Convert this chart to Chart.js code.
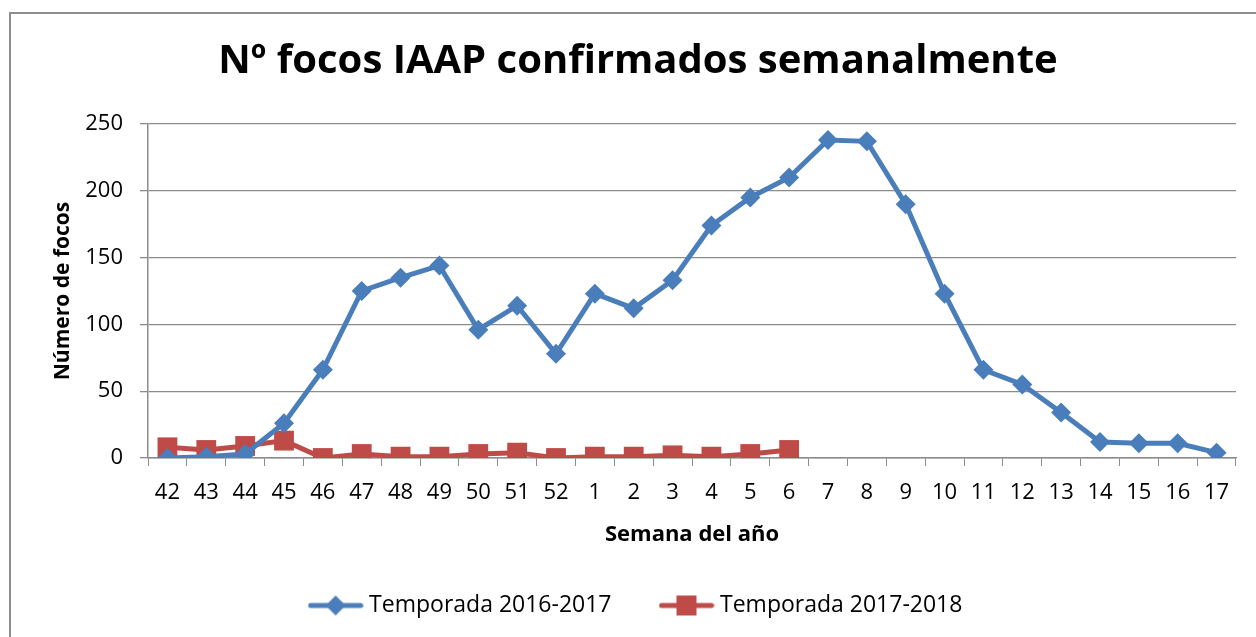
<!DOCTYPE html>
<html>
<head>
<meta charset="utf-8">
<script src="https://cdn.jsdelivr.net/npm/chart.js@4.4.0/dist/chart.umd.min.js"></script>
<style>
  html, body { margin: 0; padding: 0; background: #fff; }
  #wrap { position: relative; width: 1256px; height: 637px; overflow: hidden; }
  #frame {
    position: absolute; left: 9px; top: 12px; width: 1400px; height: 800px;
    border-left: 2px solid #8e8e8e; border-top: 2px solid #8e8e8e;
  }
  canvas { position: absolute; left: 0; top: 0; }
</style>
</head>
<body>
<div id="wrap">
  <div id="frame"></div>
  <canvas id="chart" width="1256" height="637"></canvas>
</div>
<script>
// semanas (42..52 de un año, 1..17 del siguiente)
const weeks = ['42','43','44','45','46','47','48','49','50','51','52',
               '1','2','3','4','5','6','7','8','9','10','11','12','13','14','15','16','17'];

const season1617 = [0, 1, 3, 26, 66, 125, 135, 144, 96, 114, 78,
                    123, 112, 133, 174, 195, 210, 238, 237, 190, 123, 66, 55, 34, 12, 11, 11, 4];

const season1718 = [8, 6, 9, 13, 0, 3, 1, 1, 3, 4, 0,
                    1, 1, 2, 1, 3, 6];

const yTicks = [0, 50, 100, 150, 200, 250];

const BLUE = '#4a7ebb';
const RED  = '#be4b48';
const GRID = '#8c8c8c';
const FONT = "'Open Sans', 'Noto Sans', sans-serif";

// icono de leyenda: linea + marcador, como en Excel
function legendIcon(color, shape) {
  const c = document.createElement('canvas');
  c.width = 56; c.height = 22;
  const g = c.getContext('2d');
  g.strokeStyle = color;
  g.lineWidth = 5;
  g.lineCap = 'round';
  g.beginPath(); g.moveTo(3, 11); g.lineTo(53, 11); g.stroke();
  g.fillStyle = color;
  g.beginPath();
  if (shape === 'diamond') {
    g.moveTo(28, 1); g.lineTo(38, 11); g.lineTo(28, 21); g.lineTo(18, 11);
  } else {
    g.rect(18, 1, 20, 20);
  }
  g.closePath(); g.fill();
  return c;
}

const icons = [legendIcon(BLUE, 'diamond'), legendIcon(RED, 'square')];

new Chart(document.getElementById('chart'), {
  type: 'line',
  data: {
    labels: weeks,
    datasets: [
      {
        label: 'Temporada 2016-2017',
        data: season1617,
        borderColor: BLUE,
        backgroundColor: BLUE,
        borderWidth: 5,
        pointStyle: 'rectRot',
        pointRadius: 10,
        pointBorderWidth: 0,
        tension: 0,
      },
      {
        label: 'Temporada 2017-2018',
        data: season1718,
        borderColor: RED,
        backgroundColor: RED,
        borderWidth: 5,
        pointStyle: 'rect',
        pointRadius: 14,
        pointBorderWidth: 0,
        tension: 0,
      }
    ]
  },
  options: {
    responsive: false,
    animation: false,
    layout: { padding: { left: 40, right: 20, top: 0, bottom: 10 } },
    plugins: {
      title: {
        display: true,
        text: 'Nº focos IAAP confirmados semanalmente',
        color: '#000',
        font: { family: FONT, size: 40, weight: 'bold', lineHeight: 1.2 },
        padding: { top: 38, bottom: 38 },
      },
      legend: {
        position: 'bottom',
        labels: {
          color: '#000',
          font: { family: FONT, size: 23 },
          usePointStyle: true,
          pointStyleWidth: 44,
          padding: 53,
          generateLabels: chart => chart.data.datasets.map((ds, i) => ({
            text: ds.label,
            pointStyle: icons[i],
            fillStyle: ds.borderColor,
            strokeStyle: ds.borderColor,
            lineWidth: 0,
            datasetIndex: i,
          })),
        },
      },
      tooltip: { enabled: false },
    },
    scales: {
      x: {
        offset: true,
        grid: {
          offset: true,
          drawOnChartArea: false,
          drawTicks: true,
          tickLength: 8,
          color: GRID,
        },
        border: { color: GRID, width: 1.5 },
        ticks: {
          color: '#000',
          font: { family: FONT, size: 22 },
          padding: 14,
          maxRotation: 0,
          autoSkip: false,
        },
        title: {
          display: true,
          text: 'Semana del año',
          color: '#000',
          font: { family: FONT, size: 22, weight: 'bold' },
          padding: { top: 8, bottom: -7 },
        },
        afterFit: s => { s.height = 83; },
      },
      y: {
        min: 0,
        max: 250,
        afterBuildTicks: s => { s.ticks = yTicks.map(v => ({ value: v })); },
        grid: {
          color: GRID,
          lineWidth: 1.3,
          tickLength: 8,
        },
        border: { color: GRID, width: 1.5 },
        ticks: {
          color: '#000',
          font: { family: FONT, size: 22 },
          padding: 17,
        },
        title: {
          display: true,
          text: 'Número de focos',
          color: '#000',
          font: { family: FONT, size: 21, weight: 'bold' },
          padding: { top: 10, bottom: 0 },
        },
        afterFit: s => { s.width = 108; },
      },
    },
  },
});
</script>
</body>
</html>
